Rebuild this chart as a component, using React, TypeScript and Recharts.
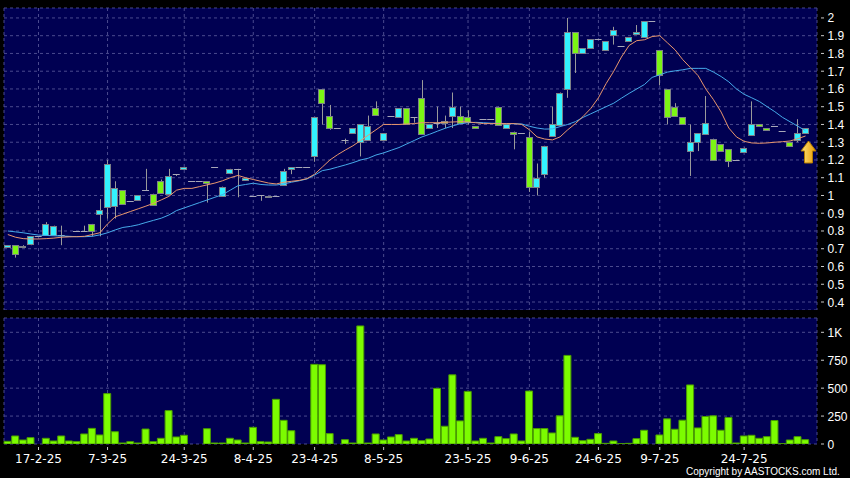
import { ComposedChart, Bar, Line, XAxis, YAxis, CartesianGrid, ReferenceDot } from "recharts";

// daily OHLC
const opens = [
  0.71, 0.72, 0.71, 0.725, 0.77, 0.78, 0.78, 0.78, 0.77, 0.8,
  0.8, 0.84, 0.9, 0.94, 0.94, 1.03, 0.97, 0.97, 1.03, 1.01,
  1.08, 1.01, 1.12, 1.15, 1.08, 1.08, 1.08, 1.16, 1.0, 1.13,
  1.15, 1.09, 0.995, 1.0, 0.997, 0.995, 1.06, 1.15, 1.16, 1.16,
  1.22, 1.6, 1.45, 1.38, 1.31, 1.35, 1.3, 1.31, 1.49, 1.31,
  1.45, 1.44, 1.49, 1.44, 1.55, 1.38, 1.41, 1.42, 1.45, 1.45,
  1.44, 1.39, 1.43, 1.43, 1.5, 1.38, 1.36, 1.35, 1.33, 1.05,
  1.12, 1.33, 1.4, 1.6, 1.92, 1.8, 1.83, 1.88, 1.82, 1.9,
  1.84, 1.87, 1.91, 1.89, 1.98, 1.82, 1.6, 1.5, 1.44, 1.25,
  1.3, 1.35, 1.32, 1.29, 1.26, 1.2, 1.25, 1.34, 1.4, 1.38,
  1.39, 1.365, 1.3, 1.31, 1.35,
];
const highs = [
  0.72, 0.72, 0.72, 0.77, 0.77, 0.85, 0.83, 0.83, 0.77, 0.8,
  0.83, 0.84, 0.98, 1.2, 1.08, 1.03, 0.97, 1.0, 1.15, 1.01,
  1.09, 1.15, 1.12, 1.16, 1.08, 1.08, 1.08, 1.16, 1.05, 1.15,
  1.15, 1.1, 0.995, 1.0, 0.997, 0.995, 1.15, 1.16, 1.16, 1.16,
  1.44, 1.6, 1.51, 1.38, 1.32, 1.38, 1.4, 1.45, 1.53, 1.35,
  1.45, 1.49, 1.49, 1.44, 1.65, 1.4, 1.5, 1.45, 1.58, 1.5,
  1.48, 1.39, 1.43, 1.43, 1.5, 1.4, 1.36, 1.35, 1.36, 1.18,
  1.28, 1.5, 1.58, 2.0, 1.92, 1.83, 1.88, 1.88, 1.87, 1.95,
  1.84, 1.89, 1.96, 1.98, 1.98, 1.82, 1.6, 1.52, 1.44, 1.4,
  1.35, 1.56, 1.32, 1.29, 1.26, 1.2, 1.27, 1.53, 1.4, 1.38,
  1.39, 1.365, 1.3, 1.43, 1.38,
];
const lows = [
  0.71, 0.65, 0.71, 0.72, 0.77, 0.78, 0.78, 0.72, 0.77, 0.8,
  0.8, 0.77, 0.77, 0.87, 0.87, 0.95, 0.97, 0.97, 1.03, 0.95,
  1.01, 1.0, 1.11, 1.15, 1.08, 1.08, 0.96, 1.16, 1.0, 1.12,
  0.99, 1.09, 0.995, 0.97, 0.99, 0.995, 1.06, 1.12, 1.16, 1.16,
  1.19, 1.4, 1.37, 1.38, 1.29, 1.35, 1.22, 1.31, 1.45, 1.31,
  1.45, 1.44, 1.4, 1.41, 1.35, 1.38, 1.38, 1.38, 1.38, 1.41,
  1.4, 1.38, 1.43, 1.43, 1.4, 1.38, 1.26, 1.35, 1.02, 1.0,
  1.1, 1.33, 1.4, 1.55, 1.69, 1.8, 1.83, 1.88, 1.82, 1.85,
  1.84, 1.87, 1.91, 1.89, 1.98, 1.62, 1.4, 1.45, 1.4, 1.11,
  1.25, 1.35, 1.2, 1.25, 1.16, 1.2, 1.24, 1.34, 1.39, 1.37,
  1.39, 1.365, 1.28, 1.3, 1.35,
];
const closes = [
  0.72, 0.67, 0.717, 0.77, 0.77, 0.84, 0.83, 0.78, 0.77, 0.8,
  0.8, 0.8, 0.92, 1.18, 1.04, 0.95, 0.97, 1.0, 1.03, 0.95,
  1.01, 1.11, 1.12, 1.16, 1.08, 1.08, 1.07, 1.16, 1.05, 1.15,
  1.15, 1.1, 0.995, 1.0, 0.99, 0.995, 1.14, 1.16, 1.16, 1.16,
  1.44, 1.52, 1.38, 1.38, 1.31, 1.38, 1.4, 1.39, 1.45, 1.35,
  1.45, 1.49, 1.4, 1.44, 1.35, 1.4, 1.41, 1.41, 1.5, 1.41,
  1.41, 1.38, 1.43, 1.43, 1.4, 1.4, 1.35, 1.35, 1.05, 1.1,
  1.28, 1.4, 1.58, 1.92, 1.8, 1.83, 1.88, 1.88, 1.87, 1.93,
  1.84, 1.89, 1.92, 1.98, 1.98, 1.68, 1.44, 1.45, 1.4, 1.3,
  1.35, 1.41, 1.2, 1.25, 1.19, 1.2, 1.27, 1.4, 1.39, 1.37,
  1.39, 1.365, 1.28, 1.35, 1.38,
];

// moving averages (orange = short, blue = long)
const maShort = [
  0.78, 0.765, 0.757, 0.755, 0.755, 0.757, 0.76, 0.765, 0.767, 0.768,
  0.77, 0.78, 0.79, 0.84, 0.88, 0.895, 0.91, 0.925, 0.94, 0.956,
  0.975, 0.995, 1.03, 1.04, 1.04, 1.05, 1.06, 1.07, 1.083, 1.1,
  1.113, 1.1, 1.09, 1.08, 1.07, 1.065, 1.075, 1.08, 1.085, 1.095,
  1.12, 1.16, 1.2, 1.23, 1.256, 1.28, 1.31, 1.34, 1.37, 1.4,
  1.4, 1.4, 1.403, 1.405, 1.41, 1.41, 1.41, 1.412, 1.414, 1.416,
  1.414, 1.41, 1.405, 1.405, 1.405, 1.405, 1.405, 1.4, 1.37, 1.33,
  1.318, 1.313, 1.33, 1.37, 1.405, 1.445, 1.49, 1.55, 1.63, 1.7,
  1.78, 1.845, 1.872, 1.877, 1.895, 1.9, 1.86, 1.82, 1.765, 1.72,
  1.675, 1.6, 1.54, 1.47, 1.38, 1.33, 1.305, 1.296, 1.294, 1.296,
  1.3, 1.303, 1.307, 1.32, 1.335,
];
const maLong = [
  0.8, 0.795, 0.79, 0.783, 0.777, 0.775, 0.773, 0.772, 0.77, 0.768,
  0.768, 0.77, 0.778, 0.79, 0.806, 0.82, 0.826, 0.835, 0.848, 0.86,
  0.872, 0.89, 0.915, 0.93, 0.945, 0.96, 0.975, 0.99, 1.005, 1.03,
  1.055, 1.062, 1.069, 1.062, 1.059, 1.059, 1.065, 1.075, 1.083, 1.093,
  1.115, 1.14, 1.148, 1.16, 1.172, 1.185, 1.2, 1.21, 1.228, 1.24,
  1.255, 1.27, 1.29, 1.31, 1.33, 1.345, 1.362, 1.378, 1.392, 1.404,
  1.41, 1.412, 1.41, 1.407, 1.406, 1.405, 1.404, 1.403, 1.39, 1.38,
  1.374, 1.375, 1.388, 1.4, 1.416, 1.44, 1.46, 1.48, 1.5, 1.52,
  1.548, 1.575, 1.6, 1.625, 1.665, 1.68, 1.695, 1.702, 1.708, 1.716,
  1.716, 1.716, 1.695, 1.67, 1.64, 1.6, 1.57, 1.55, 1.529, 1.5,
  1.472, 1.44, 1.415, 1.39, 1.365,
];

// volume in thousands of shares
const volumes = [
  24, 72, 36, 57, 0, 51, 27, 72, 27, 21,
  90, 140, 81, 451, 110, 9, 21, 9, 134, 21,
  51, 299, 63, 78, 0, 0, 137, 9, 9, 51,
  36, 9, 149, 21, 18, 400, 212, 119, 0, 0,
  713, 710, 93, 0, 39, 9, 1057, 9, 90, 36,
  63, 84, 27, 51, 30, 45, 498, 159, 619, 207,
  471, 27, 51, 9, 66, 48, 90, 27, 474, 138,
  138, 99, 252, 793, 60, 30, 42, 93, 6, 27,
  3, 6, 48, 123, 0, 81, 225, 132, 213, 529,
  144, 246, 252, 123, 237, 9, 72, 78, 51, 66,
  210, 3, 36, 66, 39,
];

const tickIdx = [4, 13, 23, 32, 40, 49, 60, 68, 77, 85, 96];
const tickLabels = ["17-2-25", "7-3-25", "24-3-25", "8-4-25", "23-4-25", "8-5-25", "23-5-25", "9-6-25", "24-6-25", "9-7-25", "24-7-25"];
const priceTicks = [0.4, 0.5, 0.6, 0.7, 0.8, 0.9, 1, 1.1, 1.2, 1.3, 1.4, 1.5, 1.6, 1.7, 1.8, 1.9, 2];
const volTicks = [0, 250, 500, 750, 1000];

const NAVY = "#000052";
const GRID = "#4a4a8e";
const CYAN = "#33f2ff";
const GREEN = "#7cf514";
const WICK = "#9a9a9a";

// one spare slot at the right end, like the original
const rows = Array.from({ length: opens.length + 1 }, (_, i) => ({
  i,
  o: opens[i] ?? null,
  h: highs[i] ?? null,
  l: lows[i] ?? null,
  c: closes[i] ?? null,
  ma1: maShort[i] ?? null,
  ma2: maLong[i] ?? null,
  v: volumes[i] ?? null,
}));

const Candle = (props: any) => {
  const { x, y, width, height, payload } = props;
  if (payload == null || payload.h == null) return null;
  const { o, h, l, c } = payload;
  const top = Math.min(y, y + height);
  const bot = Math.max(y, y + height);
  const k = h > l ? (bot - top) / (h - l) : 0;
  const py = (v: number) => top + (h - v) * k;
  const cx = Math.round(x + width / 2) + 0.5;
  const wick = h > l ? <line x1={cx} x2={cx} y1={top} y2={bot} stroke={WICK} strokeWidth={1} /> : null;
  if (o === c) {
    const fy = Math.round(py(o)) + 0.5;
    return (
      <g>
        {wick}
        <line x1={x} x2={x + width} y1={fy} y2={fy} stroke="#a8a8b8" strokeWidth={1} />
      </g>
    );
  }
  const yt = py(Math.max(o, c));
  const yb = py(Math.min(o, c));
  return (
    <g>
      {wick}
      <rect
        x={Math.round(x) + 0.5}
        y={Math.round(yt) + 0.5}
        width={Math.round(width) - 1}
        height={Math.max(Math.round(yb - yt), 1)}
        fill={c > o ? CYAN : GREEN}
        stroke="#7c8088"
        strokeWidth={1}
      />
    </g>
  );
};

const RightTick = (props: any) => {
  const { x, y, payload, fmt } = props;
  return (
    <g>
      <line x1={x + 4} x2={x + 7} y1={y} y2={y} stroke="#c8c8c8" />
      <text x={x + 10.5} y={y + 4.5} fill="#ffffff" fontSize={12} fontFamily="'Liberation Sans', Arial, sans-serif">
        {fmt(payload.value)}
      </text>
    </g>
  );
};

const DateTick = (props: any) => {
  const { x, y, payload } = props;
  const k = tickIdx.indexOf(payload.value);
  return (
    <g>
      <line x1={x} x2={x} y1={y + 3} y2={y + 6} stroke="#c8c8c8" />
      <text x={x} y={y + 18.5} fill="#ffffff" fontSize={12} textAnchor="middle" fontFamily="'DejaVu Sans', Verdana, sans-serif">
        {k >= 0 ? tickLabels[k] : ""}
      </text>
    </g>
  );
};

const Arrow = (props: any) => {
  const { cx, cy } = props;
  const ax = cx + 3;
  const pts = [
    [ax, cy - 11],
    [ax + 7.5, cy - 1],
    [ax + 4, cy - 1],
    [ax + 4, cy + 11],
    [ax - 4, cy + 11],
    [ax - 4, cy - 1],
    [ax - 7.5, cy - 1],
  ]
    .map((p) => p.join(","))
    .join(" ");
  return (
    <g>
      <defs>
        <linearGradient id="arrowFill" x1="0" y1="0" x2="1" y2="0">
          <stop offset="0%" stopColor="#ffe27a" />
          <stop offset="100%" stopColor="#e99a00" />
        </linearGradient>
      </defs>
      <polygon points={pts} fill="url(#arrowFill)" stroke="#b47c00" strokeWidth={1} />
    </g>
  );
};

const priceFmt = (v: number) => (v === 1 || v === 2 ? String(v) : v.toFixed(1));
const volFmt = (v: number) => (v === 1000 ? "1K" : String(v));

export default function App() {
  return (
    <div style={{ position: "absolute", left: 0, top: 0, width: 850, height: 478, background: "#000", overflow: "hidden" }}>
      <ComposedChart width={850} height={310} data={rows} margin={{ top: 8, right: 0, bottom: 0, left: 4 }} barCategoryGap={0}>
        <CartesianGrid stroke={GRID} strokeDasharray="3 3" fill={NAVY} fillOpacity={1} />
        <XAxis dataKey="i" type="category" ticks={tickIdx} interval={0} hide />
        <YAxis
          orientation="right"
          width={33}
          domain={[0.355, 2.056]}
          allowDataOverflow
          ticks={priceTicks}
          interval={0}
          axisLine={false}
          tickLine={false}
          tickSize={0}
          tickMargin={0}
          tick={<RightTick fmt={priceFmt} />}
        />
        <Bar dataKey={(d: any) => (d.h == null ? null : [d.l, d.h])} barSize={7} shape={<Candle />} isAnimationActive={false} />
        <Line dataKey="ma2" stroke="#46aaea" strokeWidth={1} dot={false} type="linear" isAnimationActive={false} />
        <Line dataKey="ma1" stroke="#e8966e" strokeWidth={1} dot={false} type="linear" isAnimationActive={false} />
        <ReferenceDot x={104} y={1.245} r={8} shape={<Arrow />} />
      </ComposedChart>
      <ComposedChart width={850} height={168} data={rows} margin={{ top: 8, right: 0, bottom: 0, left: 4 }} barCategoryGap={0}>
        <CartesianGrid stroke={GRID} strokeDasharray="3 3" fill={NAVY} fillOpacity={1} />
        <XAxis
          dataKey="i"
          type="category"
          ticks={tickIdx}
          interval={0}
          height={34}
          axisLine={false}
          tickLine={false}
          tickSize={0}
          tickMargin={0}
          tick={<DateTick />}
        />
        <YAxis
          orientation="right"
          width={33}
          domain={[0, 1128]}
          allowDataOverflow
          ticks={volTicks}
          interval={0}
          axisLine={false}
          tickLine={false}
          tickSize={0}
          tickMargin={0}
          tick={<RightTick fmt={volFmt} />}
        />
        <Bar dataKey="v" barSize={7} fill="#7cfc00" stroke="#4a9c00" strokeWidth={1} isAnimationActive={false} />
      </ComposedChart>
      <div
        style={{
          position: "absolute",
          left: 686,
          top: 467,
          lineHeight: "10px",
          color: "#fff",
          fontSize: 10,
          fontFamily: "'Liberation Sans', Arial, sans-serif",
          whiteSpace: "nowrap",
        }}
      >
        Copyright by AASTOCKS.com Ltd.
      </div>
    </div>
  );
}
